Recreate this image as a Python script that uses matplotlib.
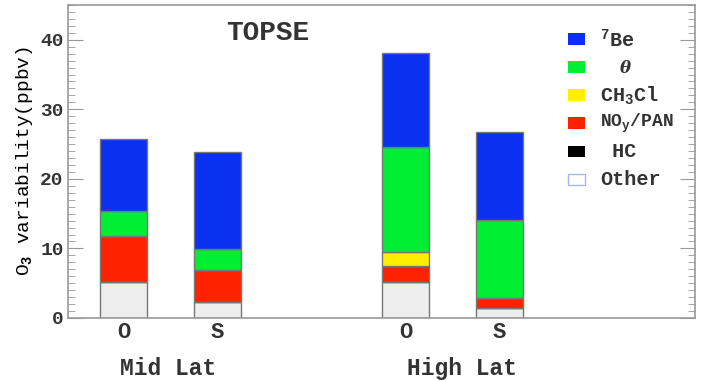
import matplotlib.pyplot as plt
from matplotlib.patches import Rectangle
from matplotlib.ticker import MultipleLocator

plt.rcParams['font.family'] = ['Liberation Mono', 'DejaVu Sans']
plt.rcParams['font.weight'] = 'bold'
plt.rcParams['text.color'] = '#333333'
plt.rcParams['mathtext.fontset'] = 'custom'
plt.rcParams['mathtext.rm'] = 'Liberation Mono:bold'
plt.rcParams['mathtext.it'] = 'DejaVu Serif:italic'

# bar positions / labels
positions = [1, 2, 4, 5]
bar_labels = ["O", "S", "O", "S"]
groups = ["Mid Lat", "High Lat"]

# contributions (ppbv), stacked bottom -> top
other = [5.2, 2.3, 5.2, 1.4]
hc = [0.0, 0.0, 0.0, 0.0]
noy_pan = [6.6, 4.6, 2.3, 1.5]
ch3cl = [0.0, 0.0, 2.0, 0.0]
theta = [3.6, 3.0, 15.1, 11.2]
be7 = [10.3, 14.0, 13.5, 12.7]

series = [other, hc, noy_pan, ch3cl, theta, be7]
names = ["Other", " HC", "NO$_\\mathrm{y}$/PAN", "CH$_3$Cl", "  $\\theta$", "$^7$Be"]
colors = ["#eeeeee", "#000000", "#ff2200", "#ffee00", "#00ee33", "#0a30f0"]

fig = plt.figure(figsize=(7.05, 3.81), dpi=100)
ax = fig.add_axes([0.0965, 0.1654, 0.8895, 0.8216])

bottom = [0.0] * len(positions)
for vals, col in zip(series, colors):
    ax.bar(positions, vals, width=0.5, bottom=bottom, color=col,
           edgecolor="#777777", linewidth=1.0)
    bottom = [b + v for b, v in zip(bottom, vals)]

ax.set_xlim(0.41, 7.08)
ax.set_ylim(0, 45)

ax.set_xticks(positions)
ax.set_xticklabels(bar_labels, fontsize=16, color='#333333')
ax.tick_params(axis='x', length=0, pad=3)

ax.yaxis.set_major_locator(MultipleLocator(10))
ax.yaxis.set_minor_locator(MultipleLocator(1))
ax.tick_params(axis='y', which='major', direction='in', length=11,
               right=True, color="#999999", labelsize=14, labelcolor='#333333', pad=3)
ax.tick_params(axis='y', which='minor', direction='in', length=5,
               right=True, color="#999999")
for s in ax.spines.values():
    s.set_color("#999999")
    s.set_linewidth(1.2)

ax.set_ylabel("O$_3$ variability(ppbv)", fontsize=14, labelpad=4)

ax.text(2.53, 40.9, "TOPSE", fontsize=20, ha='center', va='center')

trans = ax.get_xaxis_transform()
ax.text(1.47, -0.16, groups[0], fontsize=16.5, ha='center', va='center', transform=trans)
ax.text(4.6, -0.16, groups[1], fontsize=16.5, ha='center', va='center', transform=trans)

# legend, top -> bottom
for i, (name, col) in enumerate(zip(names[::-1], colors[::-1])):
    y = 0.89 - i * 0.0895
    if name == "Other":
        ax.add_patch(Rectangle((0.797, y - 0.017), 0.027, 0.036, transform=ax.transAxes,
                               facecolor="white", edgecolor="#aab4ee", linewidth=1.0))
    else:
        ax.add_patch(Rectangle((0.797, y - 0.017), 0.027, 0.036, transform=ax.transAxes,
                               facecolor=col, edgecolor="none"))
    if "theta" in name:
        ax.text(0.848, y, name, fontsize=12, fontweight='normal', va='center', ha='left',
                transform=ax.transAxes)
    elif "PAN" in name:
        ax.text(0.848, y, name, fontsize=13, va='center', ha='left', transform=ax.transAxes)
    else:
        ax.text(0.848, y, name, fontsize=14.5, va='center', ha='left', transform=ax.transAxes)

fig.savefig("out.png", dpi=100)
